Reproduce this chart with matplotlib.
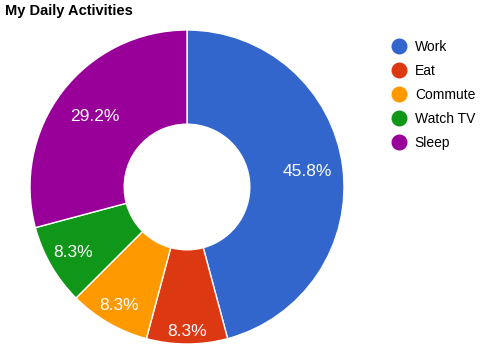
import numpy as np
import matplotlib
matplotlib.use('Agg')
import matplotlib.pyplot as plt
from matplotlib.lines import Line2D

plt.rcParams['font.family'] = ['Liberation Sans', 'DejaVu Sans']

# Hours per day for each activity
activities = ['Work', 'Eat', 'Commute', 'Watch TV', 'Sleep']
hours = [11, 2, 2, 2, 7]
colors = ['#3366cc', '#dc3912', '#ff9900', '#109618', '#990099']
# how far out each percentage label sits (fraction of radius)
label_dist = [0.77, 0.92, 0.87, 0.84, 0.74]

fig = plt.figure(figsize=(4.8, 3.6), dpi=100)
ax = fig.add_axes([30 / 480, 16 / 360, 314 / 480, 314 / 360])

wedges, _ = ax.pie(hours, colors=colors, startangle=90, counterclock=False,
                   wedgeprops=dict(width=0.6, edgecolor='white', linewidth=1))
ax.set_xlim(-1, 1)
ax.set_ylim(-1, 1)
ax.set_aspect('equal')

total = sum(hours)
for w, h, d in zip(wedges, hours, label_dist):
    ang = np.deg2rad((w.theta1 + w.theta2) / 2)
    ax.text(d * np.cos(ang), d * np.sin(ang), f'{h / total * 100:.1f}%',
            color='white', fontsize=12.5, ha='center', va='center')

fig.text(5 / 480, 1 - 11 / 360, 'My Daily Activities', fontsize=10.5,
         fontweight='bold', ha='left', va='center')

handles = [Line2D([], [], marker='o', linestyle='none', markersize=10.5,
                  markerfacecolor=c, markeredgecolor=c) for c in colors]
fig.legend(handles, activities, loc='upper left',
           bbox_to_anchor=(387 / 480, 1 - 40 / 360), frameon=False,
           fontsize=10, handletextpad=0.3, labelspacing=0.72,
           handlelength=1.7, borderpad=0, borderaxespad=0)

fig.savefig('out.png', dpi=100)
